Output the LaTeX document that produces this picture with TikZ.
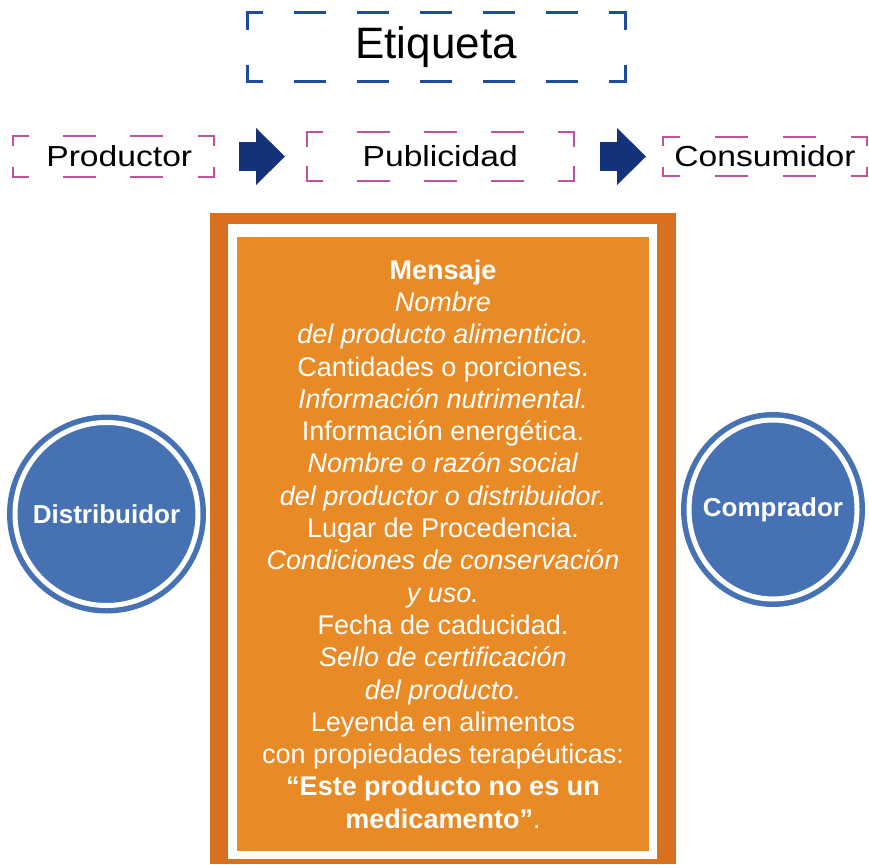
\documentclass[tikz,border=0pt]{standalone}
\usepackage{fontspec}
\setmainfont{Liberation Sans}
\newfontfamily\widefont{Liberation Sans}[FakeStretch=1.16]
\usetikzlibrary{arrows.meta,positioning,shapes.geometric}
\definecolor{etqblue}{HTML}{1D4D9F}
\definecolor{mag}{HTML}{C2519F}
\definecolor{navy}{HTML}{14327A}
\definecolor{frm}{HTML}{D9701F}
\definecolor{msgfill}{HTML}{E88B27}
\definecolor{circ}{HTML}{4672B3}
\newdimen\bxw
\newdimen\bxh
\newcommand{\cornerbox}[5]{%
  \pgfextractx{\bxw}{\pgfpointdiff{\pgfpointanchor{#1}{south west}}{\pgfpointanchor{#1}{north east}}}%
  \pgfextracty{\bxh}{\pgfpointdiff{\pgfpointanchor{#1}{south west}}{\pgfpointanchor{#1}{north east}}}%
  \pgfmathsetmacro{\gapw}{\bxw/(#4+1)-#3}%
  \pgfmathsetmacro{\gaph}{\bxh-#5}%
  \draw[#2,dash pattern=on #3 off \gapw,dash phase=#3/2] (#1.north west) -- (#1.north east) (#1.south west) -- (#1.south east);
  \draw[#2,dash pattern=on #5 off \gaph,dash phase=#5/2] (#1.north west) -- (#1.south west) (#1.north east) -- (#1.south east);
}
\tikzset{
  etqbox/.style={inner sep=0pt,outer sep=0pt,minimum width=378pt,minimum height=69pt,font=\fontsize{44pt}{50pt}\selectfont},
  lblbox/.style={inner sep=0pt,outer sep=0pt,minimum height=40.5pt,font=\widefont\fontsize{29pt}{34pt}\selectfont},
  etqline/.style={draw=etqblue,line width=3pt,line cap=rect},
  magline/.style={draw=mag,line width=2pt,line cap=rect},
  blockar/.style={draw=navy,line width=29pt,-{Triangle[length=29pt 0 0,width=57pt 0 0,line width=0pt 0 0]}},
  actor/.style={circle,fill=circ,draw=circ,line width=5.5pt,double=white,double distance=5pt,inner sep=0pt,outer sep=0pt,text=white,font=\fontsize{26pt}{30pt}\selectfont\bfseries},
  msgbox/.style={fill=msgfill,text=white,align=center,inner sep=0pt,outer sep=0pt,minimum width=412pt,minimum height=614pt,font=\fontsize{27pt}{32.3pt}\selectfont},
}

\begin{document}
\begin{tikzpicture}[x=1pt,y=-1pt]
\useasboundingbox (0,0) rectangle (869,864);
\node[etqbox] (etq) at (436,47.5) {Etiqueta};
\node[lblbox,minimum width=201.5pt] (prod) at (113.25,156.5) {\hspace*{12pt}Productor};
\node[lblbox,minimum width=267.5pt,minimum height=48.5pt,right=92.5pt of prod] (pub) {Publicidad};
\node[lblbox,minimum width=204pt,minimum height=39pt,right=89pt of pub] (cons) {Consumidor};
\cornerbox{etq}{etqline}{29}{5}{31}
\cornerbox{prod}{magline}{31}{2}{17}
\cornerbox{pub}{magline}{31}{3}{27}
\cornerbox{cons}{magline}{31}{2}{16}
\draw[blockar,shorten <=25pt,shorten >=21.5pt] (prod.east) -- (pub.west);
\draw[blockar,shorten <=26pt,shorten >=17pt] (pub.east) -- (cons.west);
\fill[frm] (210,213) rectangle (676,864);
\fill[white] (228,224) rectangle (657,859);
\node[msgbox] (msg) at (443,544) {\textbf{Mensaje}\\
  \textit{Nombre}\\
  \textit{del producto alimenticio.}\\
  Cantidades o porciones.\\
  \textit{Información nutrimental.}\\
  Información energética.\\
  \textit{Nombre o razón social}\\
  \textit{del productor o distribuidor.}\\
  Lugar de Procedencia.\\
  \textit{Condiciones de conservación}\\
  \textit{y uso.}\\
  Fecha de caducidad.\\
  \textit{Sello de certificación}\\
  \textit{del producto.}\\
  Leyenda en alimentos\\
  con propiedades terapéuticas:\\
  \textbf{“Este producto no es un}\\
  \textbf{medicamento”}.};
\node[actor,minimum size=183pt] (dist) at (106.5,514) {Distribuidor};
\node[actor,ellipse,inner xsep=-12pt,minimum width=168pt,minimum height=179pt] (comp) at (773,509.5) {Comprador};
\end{tikzpicture}
\end{document}
